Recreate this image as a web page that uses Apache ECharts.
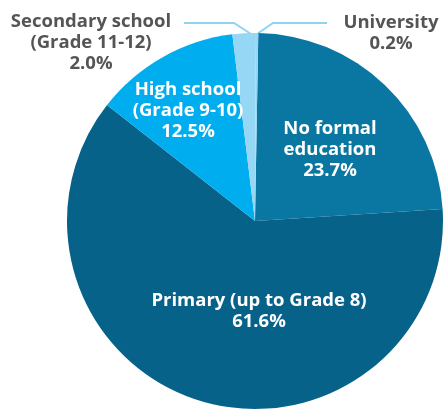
<!DOCTYPE html>
<html>
<head>
<meta charset="utf-8">
<script src="https://cdn.jsdelivr.net/npm/echarts@6/dist/echarts.min.js"></script>
<style>
  html, body { margin: 0; padding: 0; background: #fff; }
  #chart { width: 444px; height: 412px; }
</style>
</head>
<body>
<div id="chart"></div>
<script>
// education levels, clockwise from 12 o'clock
var categories = ['No formal\neducation', 'Primary (up to Grade 8)', 'High school\n(Grade 9-10)', 'Secondary school\n(Grade 11-12)', 'University'];
var shares = [23.7, 61.6, 12.5, 2.0, 0.2];

var colors = ['#0a77a3', '#07628a', '#00aeef', '#96d7f5', '#96d7f5'];
var insideLabel = [true, true, true, false, false];

// label centres (px) and leader line elbows for the outside ones
var labelPos = [[330, 150], [259, 311], [188, 111], [91, 43], [391, 33]];
var leaderPts = [null, null, null, [[251, 34], [234, 23], [184, 23]], [[257, 34], [273, 23], [327, 23]]];

var chart = echarts.init(document.getElementById('chart'));

var data = categories.map(function (name, i) {
  return {
    name: name,
    value: shares[i],
    itemStyle: { color: colors[i] },
    label: {
      position: insideLabel[i] ? 'inside' : 'outside',
      color: insideLabel[i] ? '#ffffff' : '#555555',
      align: 'center',
      verticalAlign: 'middle'
    },
    labelLine: { show: !insideLabel[i] }
  };
});

chart.setOption({
  animation: false,
  series: [{
    type: 'pie',
    center: [255, 221],
    radius: 188,
    startAngle: 89,
    clockwise: true,
    avoidLabelOverlap: false,
    itemStyle: { borderWidth: 0 },
    data: data,
    label: {
      show: true,
      fontFamily: 'Open Sans',
      fontWeight: 'bold',
      fontSize: 18.5,
      lineHeight: 21,
      formatter: function (p) { return p.name + '\n' + p.value.toFixed(1) + '%'; }
    },
    labelLine: {
      lineStyle: { color: '#8dd4f3', width: 2 }
    },
    labelLayout: function (params) {
      var i = params.dataIndex;
      var out = { x: labelPos[i][0], y: labelPos[i][1], align: 'center', verticalAlign: 'middle' };
      if (leaderPts[i]) out.labelLinePoints = leaderPts[i];
      return out;
    }
  }]
});
</script>
</body>
</html>
